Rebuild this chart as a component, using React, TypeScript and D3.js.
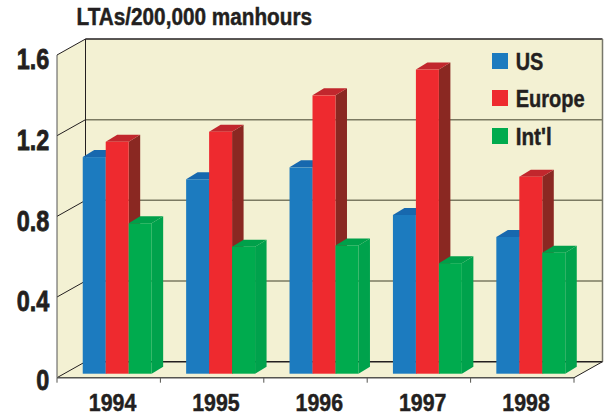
import React from "react";
import * as d3 from "d3";

const years = ["1994", "1995", "1996", "1997", "1998"];
const seriesNames = ["US", "Europe", "Int'l"];
const us = [1.074, 0.964, 1.023, 0.787, 0.678];
const europe = [1.15, 1.2, 1.38, 1.508, 0.977];
const intl = [0.746, 0.63, 0.636, 0.548, 0.6];
const yTicks = [0, 0.4, 0.8, 1.2, 1.6];
const tickLabels = ["0", "0.4", "0.8", "1.2", "1.6"];
const legendWidths = [27.6, 69, 36];

const palette = [
  { front: "#1c7bbf", top: "#1768ae", side: "#1768ae" },
  { front: "#ee2a2f", top: "#c1272d", side: "#8a2822" },
  { front: "#00ab4e", top: "#00a04a", side: "#00a24c" },
];

const CREAM = "#f3f1d3";
const GRID = "#7b7a62";
const INK = "#231f20";
const FONT = "'Liberation Sans', Arial, sans-serif";
const W = 605, H = 416;
const x0 = 57, x1 = 574, yBase = 377.7, yTop = 55;
const DX = 28.5, DY = 16;
const barDX = 11.5, barDY = 7;
const barOffX = 8.5, barOffY = 4;

const yScale = d3.scaleLinear().domain([0, 1.6]).range([yBase, yTop]);
const xBand = d3.scaleBand<string>().domain(years).range([x0, x1]).paddingInner(1 / 3).paddingOuter(1 / 6);
const xInner = d3.scaleBand<string>().domain(seriesNames).range([0, xBand.bandwidth()]);
const poly = (pts: number[][]) => pts.map((p) => p.join(",")).join(" ");

function Label({ x, y, w, size, anchor, weight = 0.45, children }: any) {
  const left = anchor === "end" ? x - w : anchor === "middle" ? x - w / 2 : x;
  return (
    <text x={left} y={y} fontFamily={FONT} fontWeight={700} fontSize={size} fill={INK} stroke={INK} strokeWidth={weight}
      textLength={w} lengthAdjust="spacingAndGlyphs">{children}</text>
  );
}

export default function App() {
  const all = [us, europe, intl];
  return (
    <svg width={W} height={H} viewBox={`0 0 ${W} ${H}`} style={{ position: "absolute", left: 0, top: 0, background: "#fff" }}>
      <Label x={76.5} y={25} w={235.5} size={23}>LTAs/200,000 manhours</Label>

      <polygon points={poly([[x0 + DX, yTop - DY], [x1 + DX, yTop - DY], [x1 + DX, yBase - DY], [x1, yBase], [x0, yBase], [x0, yTop]])} fill={CREAM} />

      {yTicks.map((t) => (
        <line key={t} x1={x0 + DX} x2={x1 + DX} y1={yScale(t) - DY} y2={yScale(t) - DY}
          stroke={t === 1.6 || t === 0 ? INK : GRID} strokeWidth={1.5} />
      ))}
      {yTicks.map((t) => (
        <line key={t} x1={x0} x2={x0 + DX} y1={yScale(t)} y2={yScale(t) - DY} stroke={INK} strokeWidth={1} />
      ))}
      <line x1={x0 + DX} x2={x0 + DX} y1={yTop - DY} y2={yBase - DY} stroke={INK} strokeWidth={1} />
      <line x1={x0} x2={x0} y1={yTop} y2={yBase} stroke="#555" strokeWidth={1} />
      <line x1={x1 + DX} x2={x1 + DX} y1={yTop - DY} y2={yBase - DY} stroke="#77776a" strokeWidth={1.5} />
      <line x1={x1} x2={x1 + DX} y1={yBase} y2={yBase - DY} stroke={INK} strokeWidth={1} />
      <line x1={x0} x2={x1} y1={yBase} y2={yBase} stroke="#555550" strokeWidth={1.6} />
      {d3.range(6).map((i) => {
        const x = x0 + (i * (x1 - x0)) / 5;
        return <line key={i} x1={x} x2={x} y1={yBase} y2={yBase + 5} stroke="#555550" strokeWidth={1} />;
      })}

      {years.map((yr, g) =>
        seriesNames.map((s, k) => {
          const left = (xBand(yr) as number) + barOffX + (xInner(s) as number);
          const right = left + xInner.bandwidth();
          const bottom = yBase - barOffY;
          const top = bottom - (yBase - yScale(all[k][g]));
          const c = palette[k];
          return (
            <g key={yr + s}>
              <polygon points={poly([[right, top], [right + barDX, top - barDY], [right + barDX, bottom - barDY], [right, bottom]])} fill={c.side} />
              <polygon points={poly([[left, top], [left + barDX, top - barDY], [right + barDX, top - barDY], [right, top]])} fill={c.top} />
              <rect x={left} y={top} width={right - left} height={bottom - top} fill={c.front} />
            </g>
          );
        })
      )}

      {yTicks.map((t, i) => (
        <Label key={t} x={49.3} y={yScale(t) + (t === 0 ? 12.6 : 14.2)} w={t === 0 ? 13 : 32.6} size={30} anchor="end" weight={0.8}>{tickLabels[i]}</Label>
      ))}
      {years.map((yr) => (
        <Label key={yr} x={(xBand(yr) as number) + xBand.bandwidth() / 2 + 3.8} y={411} w={47.5} size={24} anchor="middle">{yr}</Label>
      ))}

      {seriesNames.map((s, i) => {
        const ly = [53, 90, 128][i];
        return (
          <g key={s}>
            <rect x={492} y={ly} width={16} height={16} fill={palette[i].front} />
            <Label x={515.7} y={ly + 16.5} w={legendWidths[i]} size={24}>{s}</Label>
          </g>
        );
      })}
    </svg>
  );
}
